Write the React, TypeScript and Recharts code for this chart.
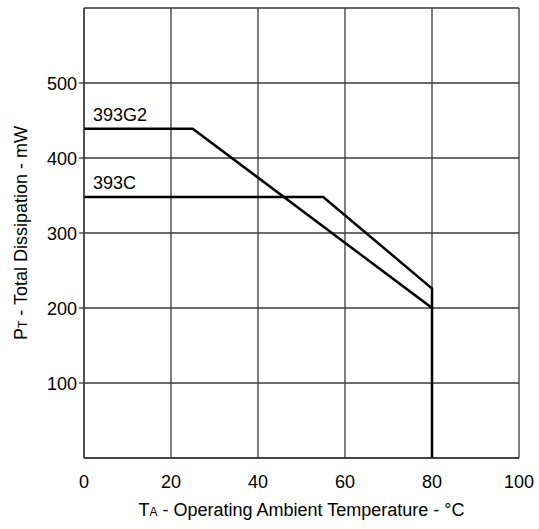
import { LineChart, Line, XAxis, YAxis, CartesianGrid, Label } from 'recharts';

// derating curves
const g2Temp = [0, 25, 80, 80];
const g2Power = [439, 439, 200, 0];
const cTemp = [0, 55, 80, 80];
const cPower = [348, 348, 226, 200];

const xTicks = [0, 20, 40, 60, 80, 100];
const yTicks = [0, 100, 200, 300, 400, 500, 600];
const yTickLabels = ['', '100', '200', '300', '400', '500', ''];

const FONT = '"Liberation Sans", Arial, Helvetica, sans-serif';
const INK = '#000';
const GRID = '#3a3a3a';

const g2Data = g2Temp.map((t, i) => ({ t, p: g2Power[i] }));
const cData = cTemp.map((t, i) => ({ t, p: cPower[i] }));

function seriesLabel(name: string) {
  return (props: any) => {
    if (props.index !== 0) return null;
    return (
      <text
        x={props.x + 9}
        y={props.y - 8}
        fontFamily={FONT}
        fontSize={18}
        fill={INK}
      >
        {name}
      </text>
    );
  };
}

function YTick(props: any) {
  const { x, y, payload } = props;
  const idx = yTicks.indexOf(payload.value);
  const txt = yTickLabels[idx] ?? '';
  if (!txt) return null;
  return (
    <g>
      <line x1={x + 3} x2={x + 8} y1={y} y2={y} stroke={GRID} strokeWidth={1.3} />
      <text x={x + 1} y={y} dy={6.5} textAnchor="end" fontFamily={FONT} fontSize={18} fill={INK}>
        {txt}
      </text>
    </g>
  );
}

export default function App() {
  return (
    <div style={{ position: 'absolute', left: 0, top: 0 }}>
      <LineChart width={539} height={529} margin={{ top: 8, right: 20, left: 0, bottom: 0 }}>
        <CartesianGrid stroke={GRID} strokeWidth={1.3} />
        <XAxis
          type="number"
          dataKey="t"
          domain={[0, 100]}
          ticks={xTicks}
          interval={0}
          height={71}
          tickLine={false}
          axisLine={{ stroke: GRID, strokeWidth: 1.3 }}
          tick={{ fontFamily: FONT, fontSize: 18, fill: INK }}
          tickMargin={11}
        >
          <Label
            content={(p: any) => {
              const vb = p.viewBox;
              return (
                <text
                  x={vb.x + vb.width / 2}
                  y={vb.y + 58}
                  textAnchor="middle"
                  fontFamily={FONT}
                  fontSize={18}
                  fill={INK}
                >
                  T<tspan fontSize={12}>A</tspan>
                  <tspan> - Operating Ambient Temperature - °C</tspan>
                </text>
              );
            }}
          />
        </XAxis>
        <YAxis
          type="number"
          domain={[0, 600]}
          ticks={yTicks}
          interval={0}
          width={84}
          tickLine={false}
          axisLine={{ stroke: GRID, strokeWidth: 1.3 }}
          tick={<YTick />}
          tickMargin={0}
          tickSize={8}
        >
          <Label
            content={(p: any) => {
              const vb = p.viewBox;
              const cx = 27;
              const cy = vb.y + vb.height / 2;
              return (
                <text
                  x={cx}
                  y={cy}
                  transform={`rotate(-90 ${cx} ${cy})`}
                  textAnchor="middle"
                  fontFamily={FONT}
                  fontSize={18}
                  fill={INK}
                >
                  P<tspan fontSize={12}>T</tspan>
                  <tspan> - Total Dissipation - mW</tspan>
                </text>
              );
            }}
          />
        </YAxis>
        <Line
          data={g2Data}
          dataKey="p"
          type="linear"
          stroke={INK}
          strokeWidth={2.5}
          dot={false}
          isAnimationActive={false}
          label={seriesLabel('393G2')}
        />
        <Line
          data={cData}
          dataKey="p"
          type="linear"
          stroke={INK}
          strokeWidth={2.5}
          dot={false}
          isAnimationActive={false}
          label={seriesLabel('393C')}
        />
      </LineChart>
    </div>
  );
}
